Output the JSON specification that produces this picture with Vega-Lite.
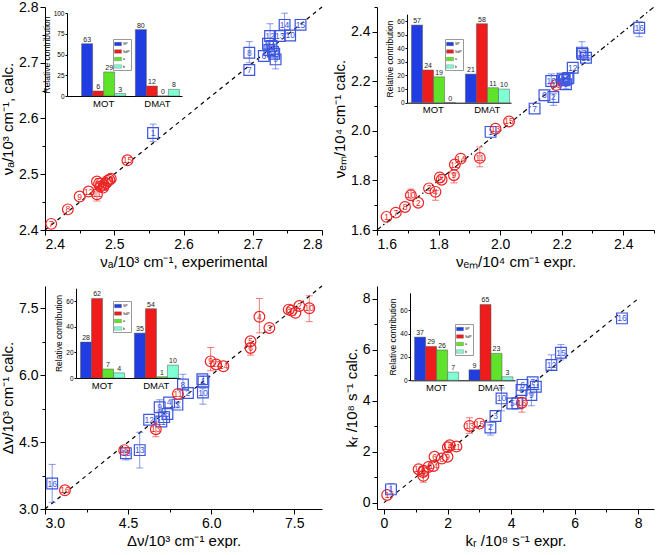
{
  "$schema": "https://vega.github.io/schema/vega-lite/v6.json",
  "background": "white",
  "padding": {"left": 0, "top": 0, "right": 0, "bottom": 0},
  "columns": 2,
  "spacing": {"row": 56, "column": 55},
  "bounds": "flush",
  "resolve": {
    "scale": {"color": "independent", "stroke": "independent", "fill": "independent", "shape": "independent"},
    "legend": {"color": "independent"}
  },
  "datasets": {
    "d1": [{"x": 2.4, "y": 2.4, "x2": 2.8, "y2": 2.8}],
    "d2": [{"x": 1.6, "y": 1.6, "x2": 2.5, "y2": 2.5}],
    "d3": [{"x": 3.0, "y": 3.0, "x2": 8.0, "y2": 8.0}],
    "d4": [{"x": 0.0, "y": 0.0, "x2": 8.0, "y2": 8.0}],
    "p1": [
      {"set": "A", "n": "7", "x": 2.409, "y": 2.411},
      {"set": "A", "n": "8", "x": 2.433, "y": 2.437},
      {"set": "A", "n": "9", "x": 2.450, "y": 2.460},
      {"set": "A", "n": "12", "x": 2.463, "y": 2.469},
      {"set": "A", "n": "11", "x": 2.475, "y": 2.464, "lo": 2.452, "hi": 2.476},
      {"set": "A", "n": "3", "x": 2.475, "y": 2.487},
      {"set": "A", "n": "10", "x": 2.478, "y": 2.483},
      {"set": "A", "n": "5", "x": 2.480, "y": 2.478},
      {"set": "A", "n": "13", "x": 2.484, "y": 2.476},
      {"set": "A", "n": "2", "x": 2.485, "y": 2.481},
      {"set": "A", "n": "6", "x": 2.488, "y": 2.484},
      {"set": "A", "n": "1", "x": 2.490, "y": 2.488},
      {"set": "A", "n": "14", "x": 2.493, "y": 2.490},
      {"set": "A", "n": "4", "x": 2.495, "y": 2.492},
      {"set": "A", "n": "15", "x": 2.519, "y": 2.525},
      {"set": "B", "n": "1", "x": 2.556, "y": 2.574, "lo": 2.559, "hi": 2.590},
      {"set": "B", "n": "7", "x": 2.695, "y": 2.687},
      {"set": "B", "n": "8", "x": 2.695, "y": 2.718, "lo": 2.700, "hi": 2.738},
      {"set": "B", "n": "6", "x": 2.716, "y": 2.712},
      {"set": "B", "n": "2", "x": 2.724, "y": 2.723},
      {"set": "B", "n": "4", "x": 2.722, "y": 2.734},
      {"set": "B", "n": "3", "x": 2.731, "y": 2.716},
      {"set": "B", "n": "11", "x": 2.727, "y": 2.730},
      {"set": "B", "n": "5", "x": 2.729, "y": 2.720},
      {"set": "B", "n": "9", "x": 2.733, "y": 2.706, "lo": 2.689, "hi": 2.722},
      {"set": "B", "n": "12", "x": 2.725, "y": 2.748, "lo": 2.732, "hi": 2.770},
      {"set": "B", "n": "13", "x": 2.739, "y": 2.748},
      {"set": "B", "n": "10", "x": 2.754, "y": 2.749},
      {"set": "B", "n": "14", "x": 2.746, "y": 2.768, "lo": 2.752, "hi": 2.789},
      {"set": "B", "n": "15", "x": 2.769, "y": 2.768}
    ],
    "p2": [
      {"set": "A", "n": "1", "x": 1.631, "y": 1.653},
      {"set": "A", "n": "7", "x": 1.661, "y": 1.670},
      {"set": "A", "n": "8", "x": 1.691, "y": 1.693},
      {"set": "A", "n": "10", "x": 1.710, "y": 1.740, "lo": 1.725, "hi": 1.765},
      {"set": "A", "n": "2", "x": 1.734, "y": 1.710},
      {"set": "A", "n": "3", "x": 1.769, "y": 1.768},
      {"set": "A", "n": "4", "x": 1.790, "y": 1.754, "lo": 1.720, "hi": 1.760},
      {"set": "A", "n": "6", "x": 1.804, "y": 1.812},
      {"set": "A", "n": "5", "x": 1.810, "y": 1.803},
      {"set": "A", "n": "9", "x": 1.850, "y": 1.821, "lo": 1.790, "hi": 1.830},
      {"set": "A", "n": "12", "x": 1.853, "y": 1.864},
      {"set": "A", "n": "14", "x": 1.872, "y": 1.888},
      {"set": "A", "n": "11", "x": 1.934, "y": 1.891, "lo": 1.855, "hi": 1.935},
      {"set": "A", "n": "13", "x": 1.985, "y": 2.009},
      {"set": "A", "n": "15", "x": 2.029, "y": 2.038},
      {"set": "A", "n": "16", "x": 2.182, "y": 2.185},
      {"set": "B", "n": "1", "x": 1.969, "y": 1.996},
      {"set": "B", "n": "7", "x": 2.112, "y": 2.090},
      {"set": "B", "n": "6", "x": 2.144, "y": 2.144},
      {"set": "B", "n": "2", "x": 2.173, "y": 2.137, "lo": 2.103, "hi": 2.150},
      {"set": "B", "n": "10", "x": 2.166, "y": 2.201, "lo": 2.190, "hi": 2.230},
      {"set": "B", "n": "3", "x": 2.207, "y": 2.204},
      {"set": "B", "n": "8", "x": 2.203, "y": 2.211},
      {"set": "B", "n": "11", "x": 2.210, "y": 2.206},
      {"set": "B", "n": "5", "x": 2.219, "y": 2.211},
      {"set": "B", "n": "4", "x": 2.222, "y": 2.214},
      {"set": "B", "n": "9", "x": 2.214, "y": 2.188, "lo": 2.170, "hi": 2.200},
      {"set": "B", "n": "12", "x": 2.236, "y": 2.255},
      {"set": "B", "n": "13", "x": 2.266, "y": 2.316, "lo": 2.300, "hi": 2.360},
      {"set": "B", "n": "14", "x": 2.268, "y": 2.310},
      {"set": "B", "n": "15", "x": 2.279, "y": 2.295},
      {"set": "B", "n": "16", "x": 2.452, "y": 2.416, "lo": 2.380, "hi": 2.440}
    ],
    "p3": [
      {"set": "B", "n": "16", "x": 3.13, "y": 3.57, "lo": 3.15, "hi": 4.00},
      {"set": "B", "n": "15", "x": 4.46, "y": 4.25, "lo": 4.10, "hi": 4.30},
      {"set": "B", "n": "13", "x": 4.71, "y": 4.32, "lo": 3.92, "hi": 4.72},
      {"set": "B", "n": "12", "x": 4.88, "y": 5.00},
      {"set": "B", "n": "11", "x": 5.10, "y": 4.96},
      {"set": "B", "n": "6", "x": 5.15, "y": 5.06},
      {"set": "B", "n": "5", "x": 5.21, "y": 5.13},
      {"set": "B", "n": "9", "x": 5.07, "y": 5.28, "lo": 5.20, "hi": 5.45},
      {"set": "B", "n": "4", "x": 5.24, "y": 5.39},
      {"set": "B", "n": "3", "x": 5.39, "y": 5.34, "lo": 5.27, "hi": 5.40},
      {"set": "B", "n": "8", "x": 5.49, "y": 5.79, "lo": 5.70, "hi": 6.02},
      {"set": "B", "n": "2", "x": 5.58, "y": 5.60},
      {"set": "B", "n": "7", "x": 5.84, "y": 5.91},
      {"set": "B", "n": "1", "x": 5.86, "y": 5.86},
      {"set": "B", "n": "10", "x": 5.85, "y": 5.61, "lo": 5.35, "hi": 5.70},
      {"set": "A", "n": "16", "x": 3.36, "y": 3.42},
      {"set": "A", "n": "15", "x": 4.43, "y": 4.32},
      {"set": "A", "n": "13", "x": 5.00, "y": 4.79, "lo": 4.62, "hi": 4.95},
      {"set": "A", "n": "11", "x": 5.40, "y": 5.58},
      {"set": "A", "n": "9", "x": 5.99, "y": 6.31, "lo": 6.10, "hi": 6.62},
      {"set": "A", "n": "12", "x": 6.09, "y": 6.24},
      {"set": "A", "n": "14", "x": 6.22, "y": 6.20},
      {"set": "A", "n": "5", "x": 6.71, "y": 6.76},
      {"set": "A", "n": "6", "x": 6.71, "y": 6.61, "lo": 6.45, "hi": 6.70},
      {"set": "A", "n": "4", "x": 6.87, "y": 7.31, "lo": 6.95, "hi": 7.72},
      {"set": "A", "n": "3", "x": 7.05, "y": 7.06},
      {"set": "A", "n": "8", "x": 7.40, "y": 7.47},
      {"set": "A", "n": "1", "x": 7.45, "y": 7.45},
      {"set": "A", "n": "7", "x": 7.52, "y": 7.40},
      {"set": "A", "n": "2", "x": 7.59, "y": 7.55},
      {"set": "A", "n": "10", "x": 7.77, "y": 7.50, "lo": 7.20, "hi": 7.78}
    ],
    "p4": [
      {"set": "A", "n": "1", "x": 0.10, "y": 0.30},
      {"set": "A", "n": "10", "x": 1.09, "y": 1.31},
      {"set": "A", "n": "3", "x": 1.23, "y": 1.20},
      {"set": "A", "n": "5", "x": 1.25, "y": 1.25},
      {"set": "A", "n": "7", "x": 1.24, "y": 1.05, "lo": 0.80, "hi": 1.15},
      {"set": "A", "n": "4", "x": 1.40, "y": 1.40},
      {"set": "A", "n": "14", "x": 1.56, "y": 1.44},
      {"set": "A", "n": "6", "x": 1.59, "y": 1.80},
      {"set": "A", "n": "8", "x": 1.82, "y": 1.73},
      {"set": "A", "n": "9", "x": 2.00, "y": 1.80},
      {"set": "A", "n": "12", "x": 2.01, "y": 2.17},
      {"set": "A", "n": "2", "x": 2.07, "y": 2.25},
      {"set": "A", "n": "11", "x": 2.28, "y": 2.20},
      {"set": "A", "n": "13", "x": 2.69, "y": 3.01, "lo": 2.72, "hi": 3.33},
      {"set": "A", "n": "15", "x": 3.01, "y": 3.10},
      {"set": "B", "n": "1", "x": 0.22, "y": 0.52, "lo": 0.35, "hi": 0.75},
      {"set": "B", "n": "2", "x": 3.35, "y": 2.95, "lo": 2.65, "hi": 3.05},
      {"set": "B", "n": "3", "x": 3.51, "y": 3.40},
      {"set": "B", "n": "10", "x": 3.70, "y": 4.09, "lo": 3.60, "hi": 4.50},
      {"set": "B", "n": "5", "x": 4.04, "y": 3.89},
      {"set": "B", "n": "4", "x": 4.20, "y": 3.90},
      {"set": "B", "n": "8", "x": 4.33, "y": 4.42},
      {"set": "B", "n": "6", "x": 4.36, "y": 4.62},
      {"set": "B", "n": "9", "x": 4.64, "y": 4.22, "lo": 3.80, "hi": 4.30},
      {"set": "B", "n": "11", "x": 4.78, "y": 4.55},
      {"set": "B", "n": "7", "x": 4.68, "y": 4.72},
      {"set": "B", "n": "12", "x": 5.27, "y": 5.40, "lo": 5.20, "hi": 5.80},
      {"set": "B", "n": "15", "x": 5.57, "y": 5.88, "lo": 5.60, "hi": 6.20},
      {"set": "B", "n": "16", "x": 7.49, "y": 7.23},
      {"set": "A", "n": "16", "x": 4.34, "y": 3.92, "lo": 3.55, "hi": 4.10}
    ],
    "b1": [
      {"group": "MOT", "comp": "SP", "value": 63}, {"group": "MOT", "comp": "SdP", "value": 6},
      {"group": "MOT", "comp": "a", "value": 29}, {"group": "MOT", "comp": "b", "value": 3},
      {"group": "DMAT", "comp": "SP", "value": 80}, {"group": "DMAT", "comp": "SdP", "value": 12},
      {"group": "DMAT", "comp": "a", "value": 0}, {"group": "DMAT", "comp": "b", "value": 8}
    ],
    "b2": [
      {"group": "MOT", "comp": "SP", "value": 57}, {"group": "MOT", "comp": "SdP", "value": 24},
      {"group": "MOT", "comp": "a", "value": 19}, {"group": "MOT", "comp": "b", "value": 0},
      {"group": "DMAT", "comp": "SP", "value": 21}, {"group": "DMAT", "comp": "SdP", "value": 58},
      {"group": "DMAT", "comp": "a", "value": 11}, {"group": "DMAT", "comp": "b", "value": 10}
    ],
    "b3": [
      {"group": "MOT", "comp": "SP", "value": 28}, {"group": "MOT", "comp": "SdP", "value": 62},
      {"group": "MOT", "comp": "a", "value": 7}, {"group": "MOT", "comp": "b", "value": 4},
      {"group": "DMAT", "comp": "SP", "value": 35}, {"group": "DMAT", "comp": "SdP", "value": 54},
      {"group": "DMAT", "comp": "a", "value": 1}, {"group": "DMAT", "comp": "b", "value": 10}
    ],
    "b4": [
      {"group": "MOT", "comp": "SP", "value": 37}, {"group": "MOT", "comp": "SdP", "value": 29},
      {"group": "MOT", "comp": "a", "value": 26}, {"group": "MOT", "comp": "b", "value": 7},
      {"group": "DMAT", "comp": "SP", "value": 9}, {"group": "DMAT", "comp": "SdP", "value": 65},
      {"group": "DMAT", "comp": "a", "value": 23}, {"group": "DMAT", "comp": "b", "value": 3}
    ]
  },
  "concat": [
    {
      "width": 277, "height": 223,
      "resolve": {"scale": {"x": "independent", "y": "independent"}, "axis": {"x": "independent", "y": "independent"}},
      "layer": [
        {
          "data": {"name": "p1"},
          "encoding": {
            "x": {"field": "x", "type": "quantitative", "scale": {"domain": [2.4, 2.8], "nice": false, "zero": false},
                  "axis": {"orient": "bottom", "title": "νₐ/10³ cm⁻¹, experimental", "values": [2.4, 2.45, 2.5, 2.55, 2.6, 2.65, 2.7, 2.75, 2.8], "format": ".2f",
                           "labelExpr": "round(datum.value*100) % 10 == 0 ? format(datum.value, '.1f') : ''",
                           "tickSize": {"condition": {"test": "round(datum.value*100) % 10 != 0", "value": 3}, "value": 5}}},
            "y": {"field": "y", "type": "quantitative", "scale": {"domain": [2.4, 2.8], "nice": false, "zero": false},
                  "axis": {"orient": "left", "title": "νₐ/10³ cm⁻¹, calc.", "values": [2.4, 2.45, 2.5, 2.55, 2.6, 2.65, 2.7, 2.75, 2.8], "format": ".2f",
                           "labelExpr": "round(datum.value*100) % 10 == 0 ? format(datum.value, '.1f') : ''",
                           "tickSize": {"condition": {"test": "round(datum.value*100) % 10 != 0", "value": 3}, "value": 5}}}
          },
          "layer": [
            {"data": {"name": "d1"}, "mark": {"type": "rule", "color": "#000", "strokeDash": [4, 4], "strokeWidth": 1.2},
             "encoding": {"x2": {"field": "x2"}, "y2": {"field": "y2"}}},
            {"transform": [{"filter": {"field": "lo", "valid": true}}], "mark": {"type": "rule", "strokeWidth": 1, "strokeOpacity": 0.6},
             "encoding": {"y": {"field": "lo", "type": "quantitative"}, "y2": {"field": "hi"},
                          "stroke": {"field": "set", "type": "nominal", "scale": {"domain": ["A", "B"], "range": ["#ee2424", "#3b55e0"]}, "legend": null}}},
            {"transform": [{"filter": {"field": "lo", "valid": true}}], "mark": {"type": "tick", "orient": "horizontal", "size": 7, "thickness": 1, "opacity": 0.6},
             "encoding": {"y": {"field": "lo", "type": "quantitative"}, "fill": {"field": "set", "type": "nominal", "scale": {"domain": ["A", "B"], "range": ["#ee2424", "#3b55e0"]}, "legend": null}}},
            {"transform": [{"filter": {"field": "hi", "valid": true}}], "mark": {"type": "tick", "orient": "horizontal", "size": 7, "thickness": 1, "opacity": 0.6},
             "encoding": {"y": {"field": "hi", "type": "quantitative"}, "fill": {"field": "set", "type": "nominal", "scale": {"domain": ["A", "B"], "range": ["#ee2424", "#3b55e0"]}, "legend": null}}},
            {"mark": {"type": "point", "filled": false, "strokeWidth": 1.2, "size": 115, "opacity": 1},
             "encoding": {"shape": {"field": "set", "type": "nominal", "scale": {"domain": ["A", "B"], "range": ["circle", "square"]}, "legend": null},
                          "stroke": {"field": "set", "type": "nominal", "scale": {"domain": ["A", "B"], "range": ["#ee2424", "#3b55e0"]}, "legend": null}}},
            {"mark": {"type": "text", "fontSize": 8.5, "align": "center", "baseline": "middle"},
             "encoding": {"text": {"field": "n"}, "fill": {"field": "set", "type": "nominal", "scale": {"domain": ["A", "B"], "range": ["#ee2424", "#3b55e0"]}, "legend": null}}}
          ]
        },
        {
          "data": {"name": "b1"},
          "encoding": {
            "x": {"field": "group", "type": "nominal", "sort": ["MOT", "DMAT"],
                  "scale": {"range": [22, 137], "paddingInner": 0.18, "paddingOuter": 0.16, "align": 0.85},
                  "axis": {"orient": "bottom", "offset": -134, "title": null, "labelAngle": 0, "ticks": false, "labelFontSize": 9.5, "labelPadding": 2}},
            "xOffset": {"field": "comp", "type": "nominal", "sort": ["SP", "SdP", "a", "b"], "scale": {"paddingInner": 0, "paddingOuter": 0}},
            "y": {"field": "value", "type": "quantitative", "scale": {"domain": [0, 100], "range": [89, 6], "nice": false},
                  "axis": {"orient": "left", "offset": -22, "title": "Relative contribution", "values": [0, 25, 50, 75, 100], "labelFontSize": 6.5, "titleFontSize": 8.5, "tickSize": 2, "labelPadding": 1, "titlePadding": 2}}
          },
          "layer": [
            {"mark": {"type": "bar", "stroke": "#555", "strokeWidth": 0.5},
             "encoding": {"color": {"field": "comp", "type": "nominal", "sort": ["SP", "SdP", "a", "b"],
                          "scale": {"domain": ["SP", "SdP", "a", "b"], "range": ["#1f3de0", "#ee1c1c", "#5fe22a", "#7fffd4"]},
                          "legend": {"orient": "none", "legendX": 68, "legendY": 32, "title": null, "symbolType": "M-1,-0.5H1V0.5H-1Z", "symbolSize": 49, "symbolStrokeWidth": 0.3, "symbolStrokeColor": "#555", "labelFontSize": 3.5, "labelOffset": 1, "rowPadding": 0.5, "padding": 1, "strokeColor": "#999"}}}},
            {"mark": {"type": "text", "fontSize": 7, "dy": -4, "color": "#222"},
             "encoding": {"text": {"field": "value"}}}
          ]
        }
      ]
    },
    {
      "width": 277, "height": 223,
      "resolve": {"scale": {"x": "independent", "y": "independent"}, "axis": {"x": "independent", "y": "independent"}},
      "layer": [
        {
          "data": {"name": "p2"},
          "encoding": {
            "x": {"field": "x", "type": "quantitative", "scale": {"domain": [1.6, 2.5], "nice": false, "zero": false},
                  "axis": {"orient": "bottom", "title": "νₑₘ/10⁴ cm⁻¹ expr.", "values": [1.6, 1.7, 1.8, 1.9, 2.0, 2.1, 2.2, 2.3, 2.4, 2.5], "format": ".1f",
                           "labelExpr": "round(datum.value*10) % 2 == 0 ? datum.label : ''",
                           "tickSize": {"condition": {"test": "round(datum.value*10) % 2 != 0", "value": 3}, "value": 5}}},
            "y": {"field": "y", "type": "quantitative", "scale": {"domain": [1.6, 2.5], "nice": false, "zero": false},
                  "axis": {"orient": "left", "title": "νₑₘ/10⁴ cm⁻¹ calc.", "values": [1.6, 1.7, 1.8, 1.9, 2.0, 2.1, 2.2, 2.3, 2.4, 2.5], "format": ".1f",
                           "labelExpr": "round(datum.value*10) % 2 == 0 ? datum.label : ''",
                           "tickSize": {"condition": {"test": "round(datum.value*10) % 2 != 0", "value": 3}, "value": 5}}}
          },
          "layer": [
            {"data": {"name": "d2"}, "mark": {"type": "rule", "color": "#000", "strokeDash": [5, 3, 1.5, 3], "strokeWidth": 1.2},
             "encoding": {"x2": {"field": "x2"}, "y2": {"field": "y2"}}},
            {"transform": [{"filter": {"field": "lo", "valid": true}}], "mark": {"type": "rule", "strokeWidth": 1, "strokeOpacity": 0.6},
             "encoding": {"y": {"field": "lo", "type": "quantitative"}, "y2": {"field": "hi"},
                          "stroke": {"field": "set", "type": "nominal", "scale": {"domain": ["A", "B"], "range": ["#ee2424", "#3b55e0"]}, "legend": null}}},
            {"transform": [{"filter": {"field": "lo", "valid": true}}], "mark": {"type": "tick", "orient": "horizontal", "size": 7, "thickness": 1, "opacity": 0.6},
             "encoding": {"y": {"field": "lo", "type": "quantitative"}, "fill": {"field": "set", "type": "nominal", "scale": {"domain": ["A", "B"], "range": ["#ee2424", "#3b55e0"]}, "legend": null}}},
            {"transform": [{"filter": {"field": "hi", "valid": true}}], "mark": {"type": "tick", "orient": "horizontal", "size": 7, "thickness": 1, "opacity": 0.6},
             "encoding": {"y": {"field": "hi", "type": "quantitative"}, "fill": {"field": "set", "type": "nominal", "scale": {"domain": ["A", "B"], "range": ["#ee2424", "#3b55e0"]}, "legend": null}}},
            {"mark": {"type": "point", "filled": false, "strokeWidth": 1.2, "size": 115, "opacity": 1},
             "encoding": {"shape": {"field": "set", "type": "nominal", "scale": {"domain": ["A", "B"], "range": ["circle", "square"]}, "legend": null},
                          "stroke": {"field": "set", "type": "nominal", "scale": {"domain": ["A", "B"], "range": ["#ee2424", "#3b55e0"]}, "legend": null}}},
            {"mark": {"type": "text", "fontSize": 8.5, "align": "center", "baseline": "middle"},
             "encoding": {"text": {"field": "n"}, "fill": {"field": "set", "type": "nominal", "scale": {"domain": ["A", "B"], "range": ["#ee2424", "#3b55e0"]}, "legend": null}}}
          ]
        },
        {
          "data": {"name": "b2"},
          "encoding": {
            "x": {"field": "group", "type": "nominal", "sort": ["MOT", "DMAT"],
                  "scale": {"range": [30, 134], "paddingInner": 0.19, "paddingOuter": 0.06, "align": 0.7},
                  "axis": {"orient": "bottom", "offset": -127.3, "title": null, "labelAngle": 0, "ticks": false, "labelFontSize": 9.5, "labelPadding": 2}},
            "xOffset": {"field": "comp", "type": "nominal", "sort": ["SP", "SdP", "a", "b"], "scale": {"paddingInner": 0, "paddingOuter": 0}},
            "y": {"field": "value", "type": "quantitative", "scale": {"domain": [0, 65], "range": [95.7, 7.2], "nice": false},
                  "axis": {"orient": "left", "offset": -30, "title": "Relative contribution", "values": [0, 10, 20, 30, 40, 50, 60], "labelFontSize": 6.5, "titleFontSize": 8.5, "tickSize": 2, "labelPadding": 1, "titlePadding": 2}}
          },
          "layer": [
            {"mark": {"type": "bar", "stroke": "#555", "strokeWidth": 0.5},
             "encoding": {"color": {"field": "comp", "type": "nominal", "sort": ["SP", "SdP", "a", "b"],
                          "scale": {"domain": ["SP", "SdP", "a", "b"], "range": ["#1f3de0", "#ee1c1c", "#5fe22a", "#7fffd4"]},
                          "legend": {"orient": "none", "legendX": 68, "legendY": 32, "title": null, "symbolType": "M-1,-0.5H1V0.5H-1Z", "symbolSize": 49, "symbolStrokeWidth": 0.3, "symbolStrokeColor": "#555", "labelFontSize": 3.5, "labelOffset": 1, "rowPadding": 0.5, "padding": 1, "strokeColor": "#999"}}}},
            {"mark": {"type": "text", "fontSize": 7, "dy": -4, "color": "#222"},
             "encoding": {"text": {"field": "value"}}}
          ]
        }
      ]
    },
    {
      "width": 277, "height": 223,
      "resolve": {"scale": {"x": "independent", "y": "independent"}, "axis": {"x": "independent", "y": "independent"}},
      "layer": [
        {
          "data": {"name": "p3"},
          "encoding": {
            "x": {"field": "x", "type": "quantitative", "scale": {"domain": [3, 8], "nice": false, "zero": false},
                  "axis": {"orient": "bottom", "title": "Δν/10³ cm⁻¹ expr.", "values": [3, 3.75, 4.5, 5.25, 6, 6.75, 7.5], "format": ".1f",
                           "labelExpr": "round(datum.value*100) % 150 == 0 ? datum.label : ''",
                           "tickSize": {"condition": {"test": "round(datum.value*100) % 150 != 0", "value": 3}, "value": 5}}},
            "y": {"field": "y", "type": "quantitative", "scale": {"domain": [3, 8], "nice": false, "zero": false},
                  "axis": {"orient": "left", "title": "Δν/10³ cm⁻¹ calc.", "values": [3, 3.75, 4.5, 5.25, 6, 6.75, 7.5], "format": ".1f",
                           "labelExpr": "round(datum.value*100) % 150 == 0 ? datum.label : ''",
                           "tickSize": {"condition": {"test": "round(datum.value*100) % 150 != 0", "value": 3}, "value": 5}}}
          },
          "layer": [
            {"data": {"name": "d3"}, "mark": {"type": "rule", "color": "#000", "strokeDash": [4, 4], "strokeWidth": 1.2},
             "encoding": {"x2": {"field": "x2"}, "y2": {"field": "y2"}}},
            {"transform": [{"filter": {"field": "lo", "valid": true}}], "mark": {"type": "rule", "strokeWidth": 1, "strokeOpacity": 0.6},
             "encoding": {"y": {"field": "lo", "type": "quantitative"}, "y2": {"field": "hi"},
                          "stroke": {"field": "set", "type": "nominal", "scale": {"domain": ["A", "B"], "range": ["#ee2424", "#3b55e0"]}, "legend": null}}},
            {"transform": [{"filter": {"field": "lo", "valid": true}}], "mark": {"type": "tick", "orient": "horizontal", "size": 7, "thickness": 1, "opacity": 0.6},
             "encoding": {"y": {"field": "lo", "type": "quantitative"}, "fill": {"field": "set", "type": "nominal", "scale": {"domain": ["A", "B"], "range": ["#ee2424", "#3b55e0"]}, "legend": null}}},
            {"transform": [{"filter": {"field": "hi", "valid": true}}], "mark": {"type": "tick", "orient": "horizontal", "size": 7, "thickness": 1, "opacity": 0.6},
             "encoding": {"y": {"field": "hi", "type": "quantitative"}, "fill": {"field": "set", "type": "nominal", "scale": {"domain": ["A", "B"], "range": ["#ee2424", "#3b55e0"]}, "legend": null}}},
            {"mark": {"type": "point", "filled": false, "strokeWidth": 1.2, "size": 115, "opacity": 1},
             "encoding": {"shape": {"field": "set", "type": "nominal", "scale": {"domain": ["A", "B"], "range": ["circle", "square"]}, "legend": null},
                          "stroke": {"field": "set", "type": "nominal", "scale": {"domain": ["A", "B"], "range": ["#ee2424", "#3b55e0"]}, "legend": null}}},
            {"mark": {"type": "text", "fontSize": 8.5, "align": "center", "baseline": "middle"},
             "encoding": {"text": {"field": "n"}, "fill": {"field": "set", "type": "nominal", "scale": {"domain": ["A", "B"], "range": ["#ee2424", "#3b55e0"]}, "legend": null}}}
          ]
        },
        {
          "data": {"name": "b3"},
          "encoding": {
            "x": {"field": "group", "type": "nominal", "sort": ["MOT", "DMAT"],
                  "scale": {"range": [31, 135], "paddingInner": 0.19, "paddingOuter": 0.06, "align": 0.7},
                  "axis": {"orient": "bottom", "offset": -131, "title": null, "labelAngle": 0, "ticks": false, "labelFontSize": 9.5, "labelPadding": 2}},
            "xOffset": {"field": "comp", "type": "nominal", "sort": ["SP", "SdP", "a", "b"], "scale": {"paddingInner": 0, "paddingOuter": 0}},
            "y": {"field": "value", "type": "quantitative", "scale": {"domain": [0, 70], "range": [92, 2.2], "nice": false},
                  "axis": {"orient": "left", "offset": -31, "title": "Relative contribution", "values": [0, 20, 40, 60], "labelFontSize": 6.5, "titleFontSize": 8.5, "tickSize": 2, "labelPadding": 1, "titlePadding": 2}}
          },
          "layer": [
            {"mark": {"type": "bar", "stroke": "#555", "strokeWidth": 0.5},
             "encoding": {"color": {"field": "comp", "type": "nominal", "sort": ["SP", "SdP", "a", "b"],
                          "scale": {"domain": ["SP", "SdP", "a", "b"], "range": ["#1f3de0", "#ee1c1c", "#5fe22a", "#7fffd4"]},
                          "legend": {"orient": "none", "legendX": 68, "legendY": 15, "title": null, "symbolType": "M-1,-0.5H1V0.5H-1Z", "symbolSize": 49, "symbolStrokeWidth": 0.3, "symbolStrokeColor": "#555", "labelFontSize": 3.5, "labelOffset": 1, "rowPadding": 0.5, "padding": 1, "strokeColor": "#999"}}}},
            {"mark": {"type": "text", "fontSize": 7, "dy": -4, "color": "#222"},
             "encoding": {"text": {"field": "value"}}}
          ]
        }
      ]
    },
    {
      "width": 277, "height": 223,
      "resolve": {"scale": {"x": "independent", "y": "independent"}, "axis": {"x": "independent", "y": "independent"}},
      "layer": [
        {
          "data": {"name": "p4"},
          "encoding": {
            "x": {"field": "x", "type": "quantitative", "scale": {"domain": [-0.22, 8.5], "nice": false, "zero": false},
                  "axis": {"orient": "bottom", "title": "kᵣ /10⁸ s⁻¹ expr.", "values": [0, 1, 2, 3, 4, 5, 6, 7, 8], "format": "d",
                           "labelExpr": "datum.value % 2 == 0 ? datum.label : ''",
                           "tickSize": {"condition": {"test": "datum.value % 2 != 0", "value": 3}, "value": 5}}},
            "y": {"field": "y", "type": "quantitative", "scale": {"domain": [-0.25, 8.5], "nice": false, "zero": false},
                  "axis": {"orient": "left", "title": "kᵣ /10⁸ s⁻¹ calc.", "values": [0, 1, 2, 3, 4, 5, 6, 7, 8], "format": "d",
                           "labelExpr": "datum.value % 2 == 0 ? datum.label : ''",
                           "tickSize": {"condition": {"test": "datum.value % 2 != 0", "value": 3}, "value": 5}}}
          },
          "layer": [
            {"data": {"name": "d4"}, "mark": {"type": "rule", "color": "#000", "strokeDash": [4, 4], "strokeWidth": 1.2},
             "encoding": {"x2": {"field": "x2"}, "y2": {"field": "y2"}}},
            {"transform": [{"filter": {"field": "lo", "valid": true}}], "mark": {"type": "rule", "strokeWidth": 1, "strokeOpacity": 0.6},
             "encoding": {"y": {"field": "lo", "type": "quantitative"}, "y2": {"field": "hi"},
                          "stroke": {"field": "set", "type": "nominal", "scale": {"domain": ["A", "B"], "range": ["#ee2424", "#3b55e0"]}, "legend": null}}},
            {"transform": [{"filter": {"field": "lo", "valid": true}}], "mark": {"type": "tick", "orient": "horizontal", "size": 7, "thickness": 1, "opacity": 0.6},
             "encoding": {"y": {"field": "lo", "type": "quantitative"}, "fill": {"field": "set", "type": "nominal", "scale": {"domain": ["A", "B"], "range": ["#ee2424", "#3b55e0"]}, "legend": null}}},
            {"transform": [{"filter": {"field": "hi", "valid": true}}], "mark": {"type": "tick", "orient": "horizontal", "size": 7, "thickness": 1, "opacity": 0.6},
             "encoding": {"y": {"field": "hi", "type": "quantitative"}, "fill": {"field": "set", "type": "nominal", "scale": {"domain": ["A", "B"], "range": ["#ee2424", "#3b55e0"]}, "legend": null}}},
            {"mark": {"type": "point", "filled": false, "strokeWidth": 1.2, "size": 115, "opacity": 1},
             "encoding": {"shape": {"field": "set", "type": "nominal", "scale": {"domain": ["A", "B"], "range": ["circle", "square"]}, "legend": null},
                          "stroke": {"field": "set", "type": "nominal", "scale": {"domain": ["A", "B"], "range": ["#ee2424", "#3b55e0"]}, "legend": null}}},
            {"mark": {"type": "text", "fontSize": 8.5, "align": "center", "baseline": "middle"},
             "encoding": {"text": {"field": "n"}, "fill": {"field": "set", "type": "nominal", "scale": {"domain": ["A", "B"], "range": ["#ee2424", "#3b55e0"]}, "legend": null}}}
          ]
        },
        {
          "data": {"name": "b4"},
          "encoding": {
            "x": {"field": "group", "type": "nominal", "sort": ["MOT", "DMAT"],
                  "scale": {"range": [33, 138], "paddingInner": 0.19, "paddingOuter": 0.06, "align": 0.7},
                  "axis": {"orient": "bottom", "offset": -128.7, "title": null, "labelAngle": 0, "ticks": false, "labelFontSize": 9.5, "labelPadding": 2}},
            "xOffset": {"field": "comp", "type": "nominal", "sort": ["SP", "SdP", "a", "b"], "scale": {"paddingInner": 0, "paddingOuter": 0}},
            "y": {"field": "value", "type": "quantitative", "scale": {"domain": [0, 75], "range": [94.3, 6.8], "nice": false},
                  "axis": {"orient": "left", "offset": -33, "title": "Relative contribution", "values": [0, 20, 40, 60], "labelFontSize": 6.5, "titleFontSize": 8.5, "tickSize": 2, "labelPadding": 1, "titlePadding": 2}}
          },
          "layer": [
            {"mark": {"type": "bar", "stroke": "#555", "strokeWidth": 0.5},
             "encoding": {"color": {"field": "comp", "type": "nominal", "sort": ["SP", "SdP", "a", "b"],
                          "scale": {"domain": ["SP", "SdP", "a", "b"], "range": ["#1f3de0", "#ee1c1c", "#5fe22a", "#7fffd4"]},
                          "legend": {"orient": "none", "legendX": 78, "legendY": 38, "title": null, "symbolType": "M-1,-0.5H1V0.5H-1Z", "symbolSize": 49, "symbolStrokeWidth": 0.3, "symbolStrokeColor": "#555", "labelFontSize": 3.5, "labelOffset": 1, "rowPadding": 0.5, "padding": 1, "strokeColor": "#999"}}}},
            {"mark": {"type": "text", "fontSize": 7, "dy": -4, "color": "#222"},
             "encoding": {"text": {"field": "value"}}}
          ]
        }
      ]
    }
  ],
  "config": {
    "font": "Liberation Sans",
    "view": {"stroke": null},
    "axis": {
      "grid": false, "labelFontSize": 14, "titleFontSize": 15, "titleFontWeight": "normal",
      "labelColor": "#000", "titleColor": "#000", "domainColor": "#000", "tickColor": "#000",
      "tickSize": 5, "labelPadding": 2, "titlePadding": 3, "labelFont": "Liberation Sans", "titleFont": "Liberation Sans"
    }
  }
}
